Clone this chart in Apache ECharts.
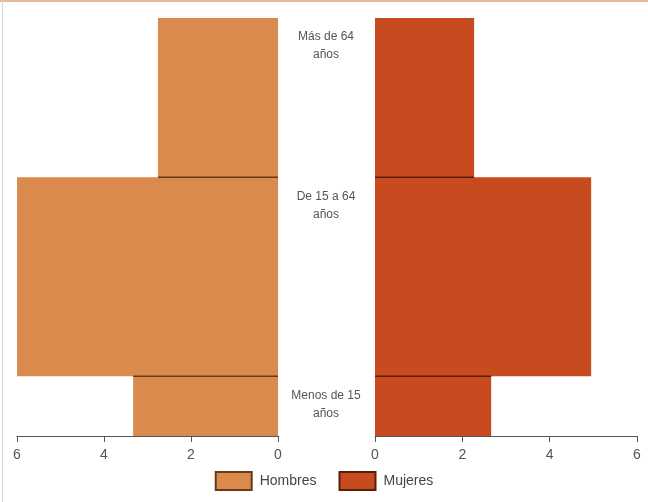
<!DOCTYPE html>
<html><head><meta charset="utf-8">
<script src="https://cdn.jsdelivr.net/npm/echarts@6/dist/echarts.min.js"></script>
<style>html,body{margin:0;padding:0;background:#fff}#c{width:648px;height:502px}</style>
</head><body><div id="c"></div>
<script>
var categories = ['Menos de 15\naños', 'De 15 a 64\naños', 'Más de 64\naños'];
var ageStart = [0, 15, 65];
var ageEnd = [15, 65, 105];
var hombres = [3.33, 6.0, 2.76];
var mujeres = [2.66, 4.95, 2.27];
var xTicks = [0, 2, 4, 6];

var FONT = "'Liberation Sans Narrow','Liberation Sans',Arial,sans-serif";

function mkData(vals){ return vals.map(function(v,i){ return [v, ageStart[i], ageEnd[i], i]; }); }

function mkRender(vals, lineColor, withLabels){
  return function(params, api){
    var i = api.value(3);
    var v = api.value(0);
    var p0 = api.coord([0, api.value(1)]);
    var p1 = api.coord([v, api.value(2)]);
    var x = Math.min(p0[0], p1[0]), w = Math.abs(p1[0]-p0[0]);
    var y = Math.min(p0[1], p1[1]), h = Math.abs(p1[1]-p0[1]);
    var children = [{
      type:'rect', shape:{x:x,y:y,width:w,height:h},
      style:{fill: api.visual('color')}
    }];
    if (i > 0) {
      var mw = Math.min(v, vals[i-1]);
      var q = api.coord([mw, api.value(1)]);
      children.push({type:'line', shape:{x1:p0[0], y1:p0[1], x2:q[0], y2:p0[1]},
        style:{stroke: lineColor, lineWidth: 1.5}});
    }
    if (withLabels) {
      var top = api.coord([0, api.value(2)]);
      children.push({type:'text', style:{
        x: top[0] + 48, y: top[1] + 10, text: categories[i],
        fill:'#555', font: '12px ' + FONT, textAlign:'center', textVerticalAlign:'top',
        lineHeight: 18
      }});
    }
    return {type:'group', children: children};
  };
}

var chart = echarts.init(document.getElementById('c'));
var xAxisCommon = {
  type:'value', min:0, max:6, interval:2,
  axisLine:{show:true, lineStyle:{color:'#555', width:1}},
  axisTick:{show:true, length:6, lineStyle:{color:'#555'}},
  axisLabel:{color:'#555', fontSize:14, fontFamily:FONT, margin:12},
  splitLine:{show:false}
};
var yAxisCommon = {type:'value', min:0, max:105, show:false};
chart.setOption({
  animation:false,
  backgroundColor:'#fff',
  grid:[
    {left:17, width:261, top:18, height:418},
    {left:375, width:262, top:18, height:418}
  ],
  xAxis:[
    Object.assign({gridIndex:0, inverse:true}, xAxisCommon),
    Object.assign({gridIndex:1}, xAxisCommon)
  ],
  yAxis:[
    Object.assign({gridIndex:0}, yAxisCommon),
    Object.assign({gridIndex:1}, yAxisCommon)
  ],
  legend:{
    bottom:6, left:'center', itemWidth:36, itemHeight:18, itemGap:22,
    textStyle:{color:'#444', fontSize:14, fontFamily:FONT, padding:[0,0,0,3]},
    data:[{name:'Hombres', icon:'rect'},{name:'Mujeres', icon:'rect'}]
  },
  graphic:[
    {type:'rect', shape:{x:0,y:0,width:648,height:2}, style:{fill:'#e8b79a'}, silent:true},
    {type:'rect', shape:{x:2,y:0,width:1,height:502}, style:{fill:'#d8d8d8'}, silent:true}
  ],
  series:[
    {name:'Hombres', type:'custom', xAxisIndex:0, yAxisIndex:0,
     itemStyle:{color:'#d98a4c', borderColor:'#6a3a18', borderWidth:1},
     encode:{x:0, y:[1,2]},
     data: mkData(hombres), renderItem: mkRender(hombres, '#6a3a18', true)},
    {name:'Mujeres', type:'custom', xAxisIndex:1, yAxisIndex:1,
     itemStyle:{color:'#c84a1f', borderColor:'#5a1e0c', borderWidth:1},
     encode:{x:0, y:[1,2]},
     data: mkData(mujeres), renderItem: mkRender(mujeres, '#5a1e0c', false)}
  ]
});
</script></body></html>
